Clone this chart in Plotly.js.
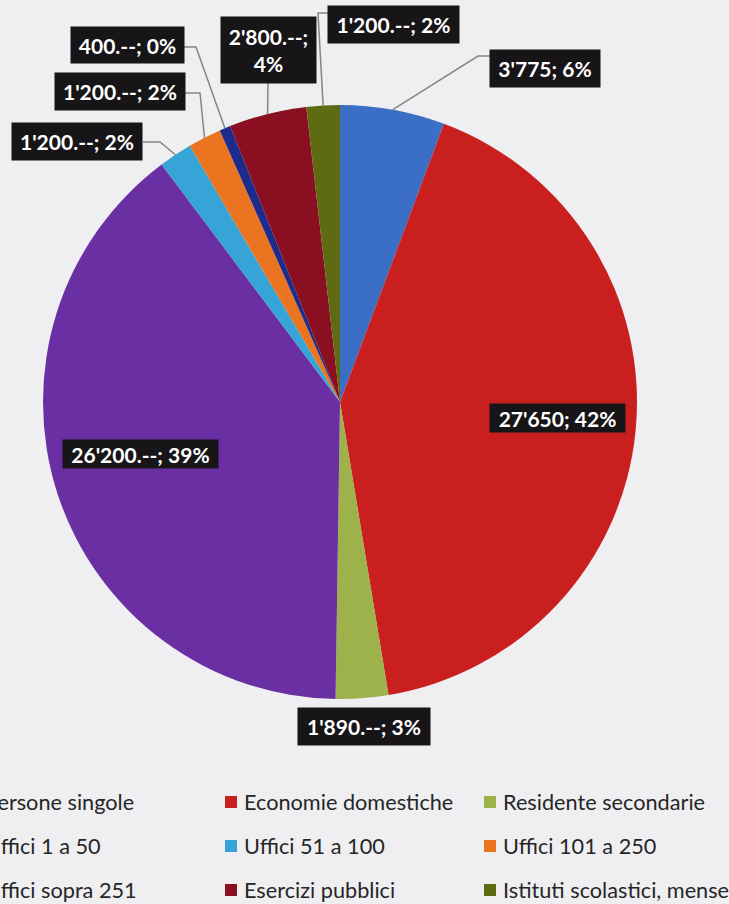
<!DOCTYPE html>
<html>
<head>
<meta charset="utf-8">
<script src="https://cdn.plot.ly/plotly-3.0.1.min.js"></script>
<style>
html,body{margin:0;padding:0;background:#efeff2;overflow:hidden;}
#chart{width:729px;height:904px;}
</style>
</head>
<body>
<div id="chart"></div>
<script>
// ---- data ----
const categories = ["Persone singole", "Economie domestiche", "Residente secondarie",
  "Uffici 1 a 50", "Uffici 51 a 100", "Uffici 101 a 250",
  "Uffici sopra 251", "Esercizi pubblici", "Istituti scolastici, mense"];
const values = [3775, 27650, 1890, 26200, 1200, 1200, 400, 2800, 1200];
const valueLabels = ["3'775", "27'650", "1'890.--", "26'200.--", "1'200.--", "1'200.--", "400.--", "2'800.--", "1'200.--"];
const percentLabels = ["6%", "42%", "3%", "39%", "2%", "2%", "0%", "4%", "2%"];
const colors = ["#3b6fc6", "#c9201f", "#9db24b", "#6a2fa2", "#36a4d6", "#ea7420",
  "#1c2b8c", "#8a0f20", "#5f6b13"];

// ---- layout / style config (pixels) ----
const W = 729, H = 904;
const CX = 340, CY = 402, R = 297;
const px = x => x / W;
const py = y => 1 - y / H;

// label boxes: center, size, optional leader polyline (box edge -> elbow), line break
const labelStyle = [
  {cx: 545, cy: 68, w: 110, h: 37, path: [[490, 56], [478, 56]]},
  {cx: 557, cy: 418, w: 135, h: 28},
  {cx: 364, cy: 726, w: 132, h: 37},
  {cx: 140, cy: 454, w: 155, h: 28},
  {cx: 77, cy: 142, w: 130, h: 37, path: [[143, 142], [160, 142]]},
  {cx: 120, cy: 91, w: 130, h: 37, path: [[185, 93], [200, 93]]},
  {cx: 127, cy: 45, w: 113, h: 36, path: [[184, 47], [196, 47]]},
  {cx: 268, cy: 50, w: 95, h: 66, path: [[268, 83]], twoLine: true},
  {cx: 394, cy: 25, w: 131, h: 37, path: [[329, 13], [318, 13]]}
];

const total = values.reduce((a, b) => a + b, 0);
const annotations = [];
const shapes = [];
let cum = 0;
values.forEach((v, i) => {
  const mid = (cum + v / 2) / total * 2 * Math.PI;
  cum += v;
  const ax = CX + R * Math.sin(mid);
  const ay = CY - R * Math.cos(mid);
  const s = labelStyle[i];
  const txt = s.twoLine ? valueLabels[i] + ";<br>" + percentLabels[i]
                        : valueLabels[i] + "; " + percentLabels[i];
  if (s.path) {
    const pts = s.path.concat([[ax, ay]]);
    const d = pts.map((p, k) => (k ? "L" : "M") + px(p[0]) + "," + py(p[1])).join(" ");
    shapes.push({type: "path", xref: "paper", yref: "paper", path: d,
      line: {color: "#858585", width: 1.5}});
  }
  annotations.push({
    xref: "paper", yref: "paper", x: px(s.cx), y: py(s.cy),
    xanchor: "center", yanchor: "middle", showarrow: false,
    text: "<b>" + txt + "</b>",
    font: {family: "Lato, 'Open Sans', sans-serif", size: 21, color: "#ffffff"},
    bgcolor: "#171517", borderpad: 0, width: s.w, height: s.h, align: "center"
  });
});

// custom legend (3 columns, partly cut at left edge as in the reference)
const legX0 = -34, legColW = 259, legY0 = 802, legRowH = 44, sq = 12;
categories.forEach((c, i) => {
  const col = i % 3, row = Math.floor(i / 3);
  const mx = legX0 + col * legColW, my = legY0 + row * legRowH;
  shapes.push({type: "rect", xref: "paper", yref: "paper",
    x0: px(mx), x1: px(mx + sq), y0: py(my - sq / 2), y1: py(my + sq / 2),
    fillcolor: colors[i], line: {width: 0}});
  annotations.push({xref: "paper", yref: "paper", x: px(mx + sq + 5), y: py(my),
    xanchor: "left", yanchor: "middle", showarrow: false, text: c,
    font: {family: "Lato, 'Open Sans', sans-serif", size: 21.7, color: "#262626"}});
});

const trace = {
  type: "pie", labels: categories, values: values, sort: false,
  direction: "clockwise", rotation: 0, textinfo: "none",
  marker: {colors: colors, line: {width: 0}},
  domain: {x: [px(CX - R), px(CX + R)], y: [py(CY + R), py(CY - R)]},
  automargin: false, showlegend: false
};

Plotly.newPlot("chart", [trace], {
  width: W, height: H, margin: {l: 0, r: 0, t: 0, b: 0},
  paper_bgcolor: "#efeff2", plot_bgcolor: "#efeff2",
  showlegend: false, annotations: annotations, shapes: shapes
}, {displayModeBar: false, staticPlot: true});
</script>
</body>
</html>
